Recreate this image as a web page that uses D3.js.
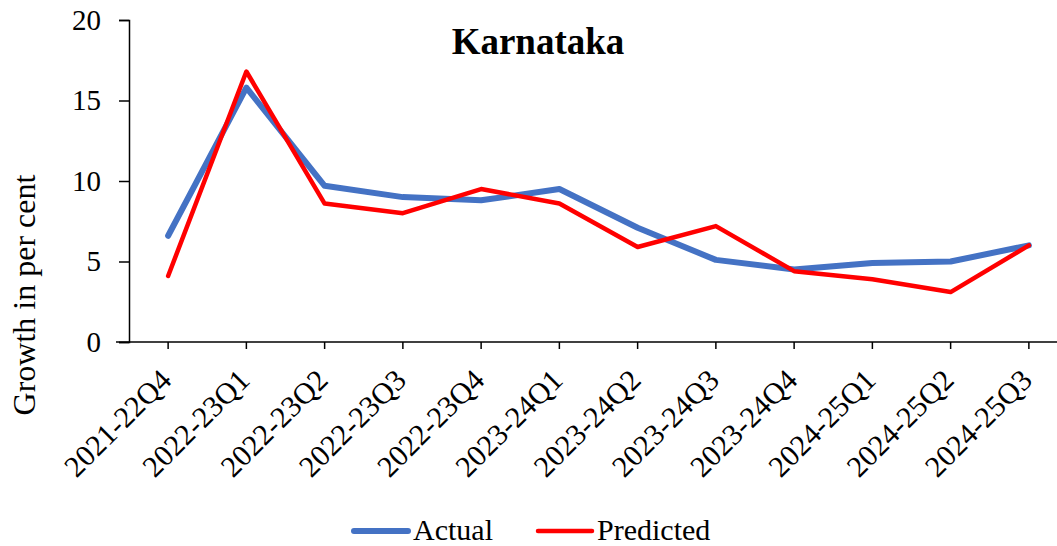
<!DOCTYPE html>
<html>
<head>
<meta charset="utf-8">
<script src="https://cdn.jsdelivr.net/npm/d3@7"></script>
<style>
  body { margin: 0; background: #fff; }
  text { font-family: "Liberation Serif", "Times New Roman", serif; }
</style>
</head>
<body>
<div id="chart"></div>
<script>
var quarters = ["2021-22Q4", "2022-23Q1", "2022-23Q2", "2022-23Q3", "2022-23Q4", "2023-24Q1",
                "2023-24Q2", "2023-24Q3", "2023-24Q4", "2024-25Q1", "2024-25Q2", "2024-25Q3"];
var actual = [6.6, 15.8, 9.7, 9.0, 8.8, 9.5, 7.1, 5.1, 4.5, 4.9, 5.0, 6.0];
var predicted = [4.1, 16.8, 8.6, 8.0, 9.5, 8.6, 5.9, 7.2, 4.4, 3.9, 3.1, 6.0];
var yTicks = [0, 5, 10, 15, 20];

var W = 1057, H = 546;
var plotLeft = 129, plotRight = 1068, plotTop = 20, plotBottom = 342;

var svg = d3.select("#chart")
    .append("svg")
        .attr("width", W)
        .attr("height", H);

var x = d3.scaleBand()
    .domain(quarters)
    .range([plotLeft, plotRight])
    .padding(0);

var y = d3.scaleLinear()
    .domain([0, 20])
    .range([plotBottom, plotTop]);

// y axis
var yAxis = svg.append("g")
    .attr("transform", "translate(" + plotLeft + ",0)")
    .call(d3.axisLeft(y).tickValues(yTicks).tickSize(10).tickPadding(18));
yAxis.select(".domain").attr("stroke", "#000").attr("stroke-width", 1.5);
yAxis.selectAll(".tick line").attr("stroke", "#000").attr("stroke-width", 1.5);
yAxis.selectAll("text")
    .attr("font-family", "Liberation Serif")
    .attr("font-size", "29px")
    .attr("fill", "#000");

// x axis line + ticks
var xg = svg.append("g");
xg.append("line")
    .attr("x1", 116).attr("x2", W)
    .attr("y1", plotBottom).attr("y2", plotBottom)
    .attr("stroke", "#000").attr("stroke-width", 1.5);
xg.selectAll(".xt")
    .data(quarters)
    .enter()
    .append("line")
    .attr("x1", function(d) { return x(d) + x.bandwidth() / 2; })
    .attr("x2", function(d) { return x(d) + x.bandwidth() / 2; })
    .attr("y1", plotBottom).attr("y2", plotBottom + 7)
    .attr("stroke", "#000").attr("stroke-width", 1.5);
xg.selectAll(".xl")
    .data(quarters)
    .enter()
    .append("text")
    .attr("text-anchor", "end")
    .attr("font-size", "30px")
    .attr("transform", function(d) {
        return "translate(" + (x(d) + x.bandwidth() / 2 + 5) + "," + (plotBottom + 40) + ") rotate(-45)";
    })
    .text(function(d) { return d; });

// lines
var line = d3.line()
    .x(function(d, i) { return x(quarters[i]) + x.bandwidth() / 2; })
    .y(function(d) { return y(d); });

svg.append("path")
    .datum(actual)
    .attr("fill", "none")
    .attr("stroke", "#4472C4")
    .attr("stroke-width", 6)
    .attr("stroke-linejoin", "round")
    .attr("stroke-linecap", "round")
    .attr("d", line);

svg.append("path")
    .datum(predicted)
    .attr("fill", "none")
    .attr("stroke", "#FF0000")
    .attr("stroke-width", 4.5)
    .attr("stroke-linejoin", "round")
    .attr("stroke-linecap", "round")
    .attr("d", line);

// title
svg.append("text")
    .attr("x", 538)
    .attr("y", 54)
    .attr("text-anchor", "middle")
    .attr("font-size", "37px")
    .attr("font-weight", "bold")
    .text("Karnataka");

// y axis title
svg.append("text")
    .attr("text-anchor", "middle")
    .attr("transform", "translate(35,295) rotate(-90)")
    .attr("font-size", "32px")
    .text("Growth in per cent");

// legend
var legend = [["Actual", "#4472C4", 6, 354], ["Predicted", "#FF0000", 4.5, 538]];
var lg = svg.selectAll(".lg")
    .data(legend)
    .enter()
    .append("g");
lg.append("line")
    .attr("x1", function(d) { return d[3]; })
    .attr("x2", function(d) { return d[3] + 54; })
    .attr("y1", 531).attr("y2", 531)
    .attr("stroke", function(d) { return d[1]; })
    .attr("stroke-width", function(d) { return d[2]; })
    .attr("stroke-linecap", "round");
lg.append("text")
    .attr("x", function(d) { return d[3] + 59; })
    .attr("y", 540)
    .attr("font-size", "30px")
    .text(function(d) { return d[0]; });
</script>
</body>
</html>
